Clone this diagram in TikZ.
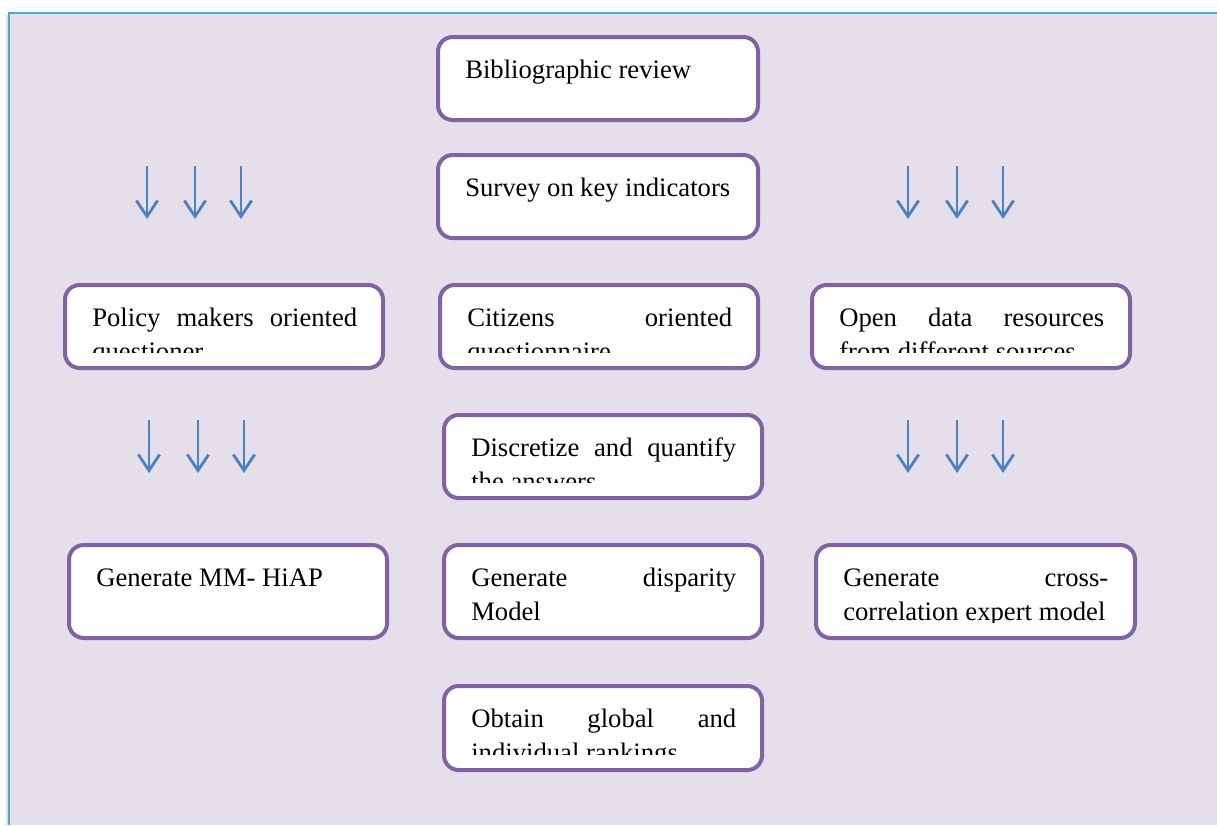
\documentclass[tikz,border=0pt]{standalone}
\usepackage{fontspec}
\setmainfont{Liberation Serif}
\usetikzlibrary{arrows.meta}
\definecolor{bgl}{HTML}{E5DFEC}
\definecolor{frameb}{HTML}{4BACC6}
\definecolor{boxp}{HTML}{8064A2}
\definecolor{arrb}{HTML}{4F81BD}
\tikzset{
  boxstyle/.style={draw=boxp, line width=3pt, fill=white, rounded corners=11pt, inner sep=0pt},
  txtstyle/.style={anchor=base west, inner sep=0pt},
  arrowstyle/.style={draw=arrb, line width=2.1pt, -{Straight Barb[length=12pt,width=16pt]}},
}
% name, x1, y1, x2, y2, text
\newcommand\flowbox[6]{%
  \node[boxstyle, minimum width={(#4-#2)*0.75pt}, minimum height={(#5-#3)*0.75pt}]
    (#1) at ({(#2+#4)/2},{(#3+#5)/2}) {};
  \begin{scope}
    \clip (#2+3,#3+3) rectangle (#4-3,#5-16);
    \node[txtstyle] (#1t) at (#2+27,#3+41)
      {\parbox[t]{198.75pt}{\fontsize{20}{25.5}\selectfont\hyphenpenalty=10000 #6}};
  \end{scope}}
\newcommand\downarrows[4]{% prefix, x list, y start, y end
  \foreach \xx [count=\ii] in {#2} {
    \coordinate (#1s\ii) at (\xx,#3);
    \coordinate (#1e\ii) at (\xx,#4);
    \draw[arrowstyle] (#1s\ii) -- (#1e\ii);
  }}
\begin{document}
\begin{tikzpicture}[x=0.75pt,y=-0.75pt]
\useasboundingbox (0,0) rectangle (1217,825);
\fill[white] (0,0) rectangle (1217,825);
\fill[bgl] (9,13) rectangle (1217,825);
\draw[black!12, line width=1.5pt] (6.5,15) -- (6.5,825);
\draw[frameb, line width=1.6pt] (9,825) -- (9,13) -- (1217,13);

\flowbox{b1}{438}{37}{758}{120}{Bibliographic review}
\flowbox{b2}{438}{155}{758}{238}{Survey on key indicators}
\flowbox{b3}{65}{285}{383}{368}{Policy makers oriented\linebreak questioner}
\flowbox{b4}{440}{285}{758}{368}{Citizens oriented\linebreak questionnaire}
\flowbox{b5}{812}{285}{1130}{368}{Open data resources\linebreak from different sources}
\flowbox{b6}{444}{415}{762}{498}{Discretize and quantify\linebreak the answers}
\flowbox{b7}{69}{545}{387}{638}{Generate MM- HiAP}
\flowbox{b8}{444}{545}{762}{638}{Generate disparity\linebreak Model}
\flowbox{b9}{816}{545}{1135}{638}{Generate cross-\linebreak correlation expert model}
\flowbox{b10}{444}{686}{762}{770}{Obtain global and\linebreak individual rankings}

\downarrows{la}{147,195,241}{166}{219}
\downarrows{ra}{908,957,1003}{166}{219}
\downarrows{lb}{149,198,244}{420}{473}
\downarrows{rb}{908,957,1003}{420}{473}
\end{tikzpicture}
\end{document}
